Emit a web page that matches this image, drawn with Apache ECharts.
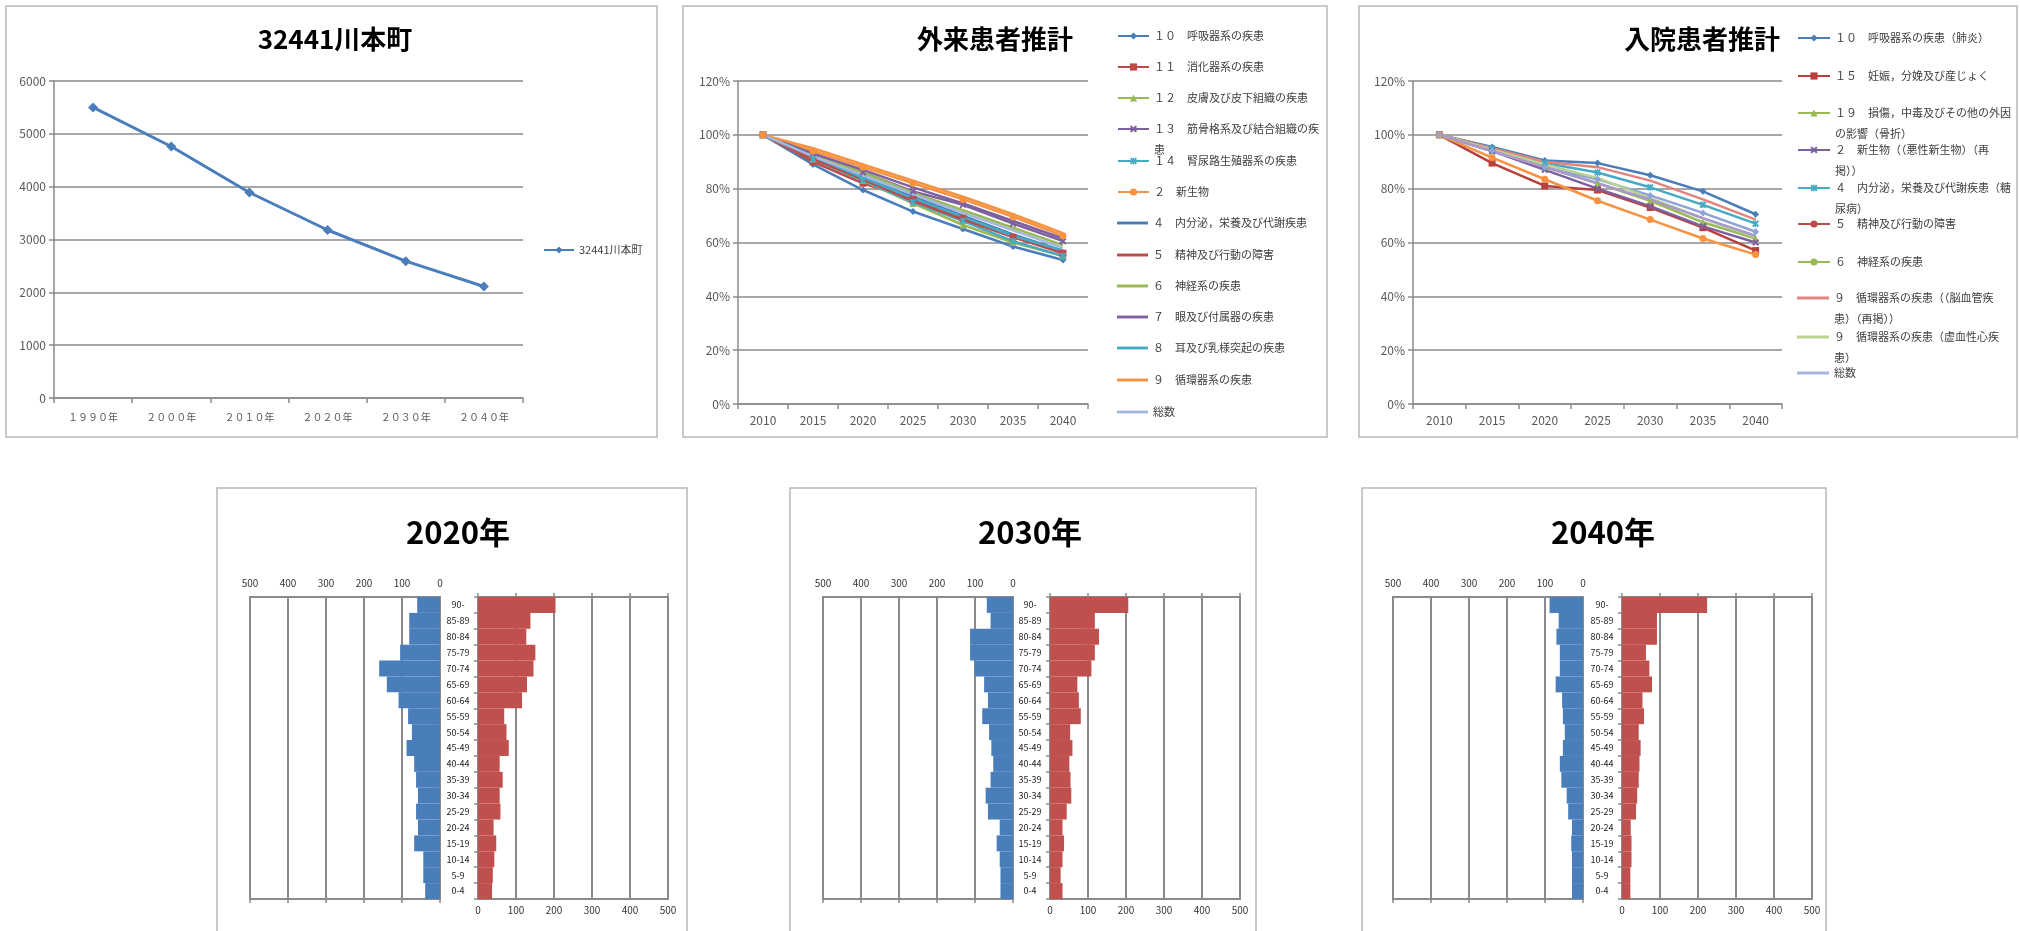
<!DOCTYPE html>
<html>
<head>
<meta charset="utf-8">
<script src="https://cdn.jsdelivr.net/npm/echarts@6.0.0/dist/echarts.min.js"></script>
<style>
html,body{margin:0;padding:0;background:#fff;}
#c{width:2020px;height:931px;}
</style>
</head>
<body>
<div id="c"></div>
<script>
// ===================== DATA =====================
const popTitle = '32441川本町';
const popYears = ['１９９０年', '２０００年', '２０１０年', '２０２０年', '２０３０年', '２０４０年'];
const popValues = [5500, 4760, 3890, 3180, 2590, 2110];
const popTicks = { min: 0, max: 6000, interval: 1000 };

const projYears = ['2010', '2015', '2020', '2025', '2030', '2035', '2040'];
const pctTicks = { min: 0, max: 120, interval: 20 };

const outTitle = '外来患者推計';
const outNames = [
  '１０　呼吸器系の疾患', '１１　消化器系の疾患', '１２　皮膚及び皮下組織の疾患',
  '１３　筋骨格系及び結合組織の疾患', '１４　腎尿路生殖器系の疾患', '２　新生物',
  '４　内分泌，栄養及び代謝疾患', '５　精神及び行動の障害', '６　神経系の疾患',
  '７　眼及び付属器の疾患', '８　耳及び乳様突起の疾患', '９　循環器系の疾患', '総数'
];
const out01 = [100, 89, 79.5, 71.5, 65, 58.5, 53.5];
const out02 = [100, 90, 82, 76, 69, 62, 56];
const out03 = [100, 91, 83, 74.5, 66.5, 60, 55];
const out04 = [100, 93, 86, 79, 74, 67, 60.5];
const out05 = [100, 91, 83, 75, 68, 60.5, 55];
const out06 = [100, 94, 88, 82, 76, 69.5, 62.5];
const out07 = [100, 92, 84, 77, 70, 63, 57];
const out08 = [100, 91, 83.5, 75.5, 68.5, 62, 56.5];
const out09 = [100, 93, 86, 78.5, 72, 65.5, 59];
const out10 = [100, 93, 87, 80.5, 74.5, 68, 61.5];
const out11 = [100, 92, 84, 76.5, 69.5, 62.5, 57];
const out12 = [100, 95, 89, 83, 77, 70.5, 63.5];
const out13 = [100, 92, 85, 78, 71, 64.5, 58];
const outValues = [out01, out02, out03, out04, out05, out06, out07, out08, out09, out10, out11, out12, out13];
const outWrap = { '１３　筋骨格系及び結合組織の疾患': ['１３　筋骨格系及び結合組織の疾', '患'] };

const inTitle = '入院患者推計';
const inNames = [
  '１０　呼吸器系の疾患（肺炎）', '１５　妊娠，分娩及び産じょく',
  '１９　損傷，中毒及びその他の外因の影響（骨折）', '２　新生物（（悪性新生物）（再掲））',
  '４　内分泌，栄養及び代謝疾患（糖尿病）', '５　精神及び行動の障害', '６　神経系の疾患',
  '９　循環器系の疾患（（脳血管疾患）（再掲））', '９　循環器系の疾患（虚血性心疾患）', '総数'
];
const in01 = [100, 95.5, 90.5, 89.5, 85, 79, 70.5];
const in02 = [100, 89.5, 81, 79.5, 73, 65.5, 57];
const in03 = [100, 94, 88, 82, 75.5, 67.5, 61.5];
const in04 = [100, 94, 87, 80, 73.5, 66, 60];
const in05 = [100, 95, 89.5, 86, 80.5, 74, 67];
const in06 = [100, 91.5, 83.5, 75.5, 68.5, 61.5, 55.5];
const in07 = [100, 94, 88, 83.5, 77.5, 71, 64];
const in08 = [100, 95, 90, 88, 83, 76, 68.5];
const in09 = [100, 94.5, 89, 84, 76.5, 69, 62];
const in10 = [100, 94, 88, 82, 76, 69, 62.5];
const inValues = [in01, in02, in03, in04, in05, in06, in07, in08, in09, in10];
const inWrap = {
  '１９　損傷，中毒及びその他の外因の影響（骨折）': ['１９　損傷，中毒及びその他の外因', 'の影響（骨折）'],
  '２　新生物（（悪性新生物）（再掲））': ['２　新生物（（悪性新生物）（再', '掲））'],
  '４　内分泌，栄養及び代謝疾患（糖尿病）': ['４　内分泌，栄養及び代謝疾患（糖', '尿病）'],
  '９　循環器系の疾患（（脳血管疾患）（再掲））': ['９　循環器系の疾患（（脳血管疾', '患）（再掲））'],
  '９　循環器系の疾患（虚血性心疾患）': ['９　循環器系の疾患（虚血性心疾', '患）']
};

const ageGroups = ['0-4', '5-9', '10-14', '15-19', '20-24', '25-29', '30-34', '35-39', '40-44', '45-49',
  '50-54', '55-59', '60-64', '65-69', '70-74', '75-79', '80-84', '85-89', '90-'];
const pyrTicks = { min: 0, max: 500, interval: 100 };
const pyrTitles = ['2020年', '2030年', '2040年'];
const male2020 = [39, 44, 44, 68, 58, 63, 58, 63, 68, 88, 74, 84, 109, 140, 160, 105, 81, 81, 60];
const female2020 = [37, 39, 43, 48, 41, 59, 57, 65, 57, 81, 75, 69, 116, 129, 146, 151, 127, 138, 204];
const male2030 = [33, 33, 35, 43, 35, 66, 72, 59, 52, 57, 63, 81, 66, 76, 101, 113, 113, 59, 69];
const female2030 = [33, 28, 33, 37, 33, 44, 56, 54, 51, 59, 53, 81, 76, 72, 109, 118, 129, 118, 206];
const male2040 = [29, 29, 29, 31, 29, 39, 43, 57, 61, 53, 48, 53, 55, 72, 61, 61, 70, 64, 88];
const female2040 = [22, 22, 25, 25, 23, 37, 40, 44, 46, 49, 44, 58, 54, 79, 72, 63, 92, 92, 224];
const pyrMale = [male2020, male2030, male2040];
const pyrFemale = [female2020, female2030, female2040];

// ===================== STYLE / LAYOUT =====================
const FONT = '"Noto Sans CJK JP", "Noto Sans", sans-serif';
const AX = '#8a8a8a', LBL = '#595959', LEG = '#404040';
const X_PATH = 'path://M0,2L2,0L5,3L8,0L10,2L7,5L10,8L8,10L5,7L2,10L0,8L3,5Z';
const STAR_PATH = 'path://M4.2,0H5.8V10H4.2ZM0,2L2,0L5,3L8,0L10,2L7,5L10,8L8,10L5,7L2,10L0,8L3,5Z';
const LINE_ICON = 'path://M0,0H32V3H0Z';

const outColors = ['#4A7EBB', '#BE4B48', '#98B954', '#7D60A0', '#46AAC5', '#F69240',
  '#4A7EBB', '#BE4B48', '#98B954', '#7D60A0', '#46AAC5', '#F69240', '#A5B6DE'];
const outMarks = ['diamond', 'rect', 'triangle', X_PATH, STAR_PATH, 'circle',
  'none', 'none', 'none', 'none', 'none', 'none', 'none'];
const inColors = ['#4A7EBB', '#B8403C', '#98B954', '#7D60A0', '#46AAC5', '#F69240',
  '#8EA4D8', '#E2837D', '#B8D48E', '#A99ACB'];
const inMarks = ['diamond', 'rect', 'triangle', X_PATH, STAR_PATH, 'circle',
  'diamond', 'none', 'none', 'none'];

const grid = [], xAxis = [], yAxis = [], series = [], title = [], legend = [], graphic = [];

// panel frames
const frames = [[6, 6, 651, 431], [683, 6, 644, 431], [1359, 6, 658, 431],
  [217, 488, 470, 470], [790, 488, 466, 470], [1362, 488, 464, 470]];
frames.forEach(f => graphic.push({
  type: 'rect', silent: true, z: -10,
  shape: { x: f[0], y: f[1], width: f[2], height: f[3] },
  style: { fill: '#fff', stroke: '#b8b8b8', lineWidth: 1.5 }
}));

function addTitle(text, x, y, size) {
  title.push({ text, left: x, top: y, padding: 0, textAlign: 'center', textVerticalAlign: 'middle',
    textStyle: { fontFamily: FONT, fontSize: size, fontWeight: 'bold', color: '#000' } });
}

function lineGrid(rect, cats, ticks, fmt, xFont, xMargin) {
  const gi = grid.length;
  grid.push({ left: rect[0], top: rect[1], width: rect[2], height: rect[3] });
  xAxis.push({ gridIndex: gi, type: 'category', data: cats, boundaryGap: true,
    axisLine: { lineStyle: { color: AX, width: 1.5 } },
    axisTick: { show: true, length: 5, lineStyle: { color: AX, width: 1.5 } },
    axisLabel: { color: LBL, fontSize: xFont, margin: xMargin, fontFamily: FONT } });
  yAxis.push({ gridIndex: gi, type: 'value', min: ticks.min, max: ticks.max, interval: ticks.interval,
    axisLine: { show: true, lineStyle: { color: AX, width: 1.5 } },
    axisTick: { show: true, length: 5, lineStyle: { color: AX, width: 1.5 } },
    splitLine: { lineStyle: { color: AX, width: 1.5 } },
    axisLabel: { color: LBL, fontSize: 12, margin: 8, formatter: fmt, fontFamily: FONT } });
  return gi;
}

function addLegend(name, wrapMap, left, cy, iw, plainLine) {
  const lines = wrapMap && wrapMap[name];
  const L = 21;
  const base = { left, orient: 'vertical', padding: 0, itemWidth: iw, itemHeight: plainLine ? 3 : 9,
    selectedMode: false, data: [name] };
  if (plainLine) base.icon = LINE_ICON;
  if (lines) {
    legend.push(Object.assign(base, { top: cy - 1.5 * L,
      formatter: () => ' \n' + lines[0] + '\n' + lines[1],
      textStyle: { fontFamily: FONT, fontSize: 11, color: LEG, lineHeight: L } }));
  } else {
    legend.push(Object.assign(base, { top: cy - 7,
      textStyle: { fontFamily: FONT, fontSize: 11, color: LEG, lineHeight: 14 } }));
  }
}

// ---------- panel 1: population ----------
addTitle(popTitle, 335, 39, 26);
const g1 = lineGrid([54, 81, 469, 317], popYears, popTicks, v => String(v), 10, 14);
series.push({ type: 'line', name: popTitle, xAxisIndex: g1, yAxisIndex: g1, data: popValues,
  color: '#4A7EBB', symbol: 'diamond', symbolSize: 10, lineStyle: { width: 3 } });
addLegend(popTitle, null, 543, 250, 30, false);

// ---------- panel 2: outpatients ----------
addTitle(outTitle, 995, 39, 26);
const g2 = lineGrid([738, 81, 350, 323], projYears, pctTicks, '{value}%', 12, 10);
const outLegY = [36, 67, 98, 129, 161, 192, 223, 255, 286, 317, 348, 380, 412];
outNames.forEach((n, i) => {
  series.push({ type: 'line', name: n, xAxisIndex: g2, yAxisIndex: g2, data: outValues[i],
    color: outColors[i], symbol: outMarks[i], symbolSize: 7, lineStyle: { width: 2.5 } });
  addLegend(n, outWrap, 1117, outLegY[i], 31, outMarks[i] === 'none');
});

// ---------- panel 3: inpatients ----------
addTitle(inTitle, 1702, 39, 26);
const g3 = lineGrid([1413, 81, 369, 323], projYears, pctTicks, '{value}%', 12, 10);
const inLegY = [38, 76, 113, 150, 188, 224, 262, 298, 337, 373];
inNames.forEach((n, i) => {
  series.push({ type: 'line', name: n, xAxisIndex: g3, yAxisIndex: g3, data: inValues[i],
    color: inColors[i], symbol: inMarks[i], symbolSize: 7, lineStyle: { width: 2.5 } });
  addLegend(n, inWrap, 1797, inLegY[i], 32, inMarks[i] === 'none');
});

// ---------- pyramids ----------
const pyrLayout = [{ l: 250, r: 478, tx: 458 }, { l: 823, r: 1050, tx: 1030 }, { l: 1393, r: 1622, tx: 1603 }];
const PY_TOP = 597, PY_H = 302, PY_W = 190, PY_C = '#8a8a8a';
pyrTitles.forEach((t, k) => {
  const P = pyrLayout[k];
  addTitle(t, P.tx, 532, 31);
  const gl = grid.length;
  grid.push({ left: P.l, top: PY_TOP, width: PY_W, height: PY_H, show: true, borderColor: PY_C, borderWidth: 2 });
  grid.push({ left: P.r, top: PY_TOP, width: PY_W, height: PY_H, show: true, borderColor: PY_C, borderWidth: 2 });
  const gr = gl + 1;
  const valueAxis = (gi, pos, inverse, labels, split) => ({
    gridIndex: gi, type: 'value', min: pyrTicks.min, max: pyrTicks.max, interval: pyrTicks.interval,
    inverse, position: pos,
    axisLine: { show: false },
    axisTick: { show: !labels, length: 4, lineStyle: { color: PY_C, width: 1.5 } },
    axisLabel: { show: labels, fontSize: 10, color: '#333', margin: pos === 'top' ? 9 : 6, fontFamily: FONT },
    splitLine: { show: split, lineStyle: { color: PY_C, width: 2 } }
  });
  const xl = xAxis.length;
  xAxis.push(valueAxis(gl, 'top', true, true, true));
  xAxis.push(valueAxis(gl, 'bottom', true, false, false));
  const xr = xAxis.length;
  xAxis.push(valueAxis(gr, 'bottom', false, true, true));
  xAxis.push(valueAxis(gr, 'top', false, false, false));
  const yl = yAxis.length;
  yAxis.push({ gridIndex: gl, type: 'category', data: ageGroups, show: false });
  const yr = yAxis.length;
  yAxis.push({ gridIndex: gr, type: 'category', data: ageGroups, position: 'left',
    axisLine: { show: true, lineStyle: { color: PY_C, width: 2 } },
    axisTick: { show: true, length: 4, lineStyle: { color: PY_C, width: 1.5 } },
    axisLabel: { align: 'center', margin: 20, fontSize: 9, color: '#222', fontFamily: FONT } });
  series.push({ type: 'bar', xAxisIndex: xl, yAxisIndex: yl, data: pyrMale[k], barCategoryGap: '0%',
    itemStyle: { color: '#4A7EBB' }, silent: true });
  series.push({ type: 'bar', xAxisIndex: xr, yAxisIndex: yr, data: pyrFemale[k], barCategoryGap: '0%',
    itemStyle: { color: '#C0504D' }, silent: true });
});

const chart = echarts.init(document.getElementById('c'), null, { renderer: 'canvas' });
chart.setOption({
  backgroundColor: '#fff',
  animation: false,
  textStyle: { fontFamily: FONT },
  title, grid, xAxis, yAxis, series, legend, graphic
});
</script>
</body>
</html>
